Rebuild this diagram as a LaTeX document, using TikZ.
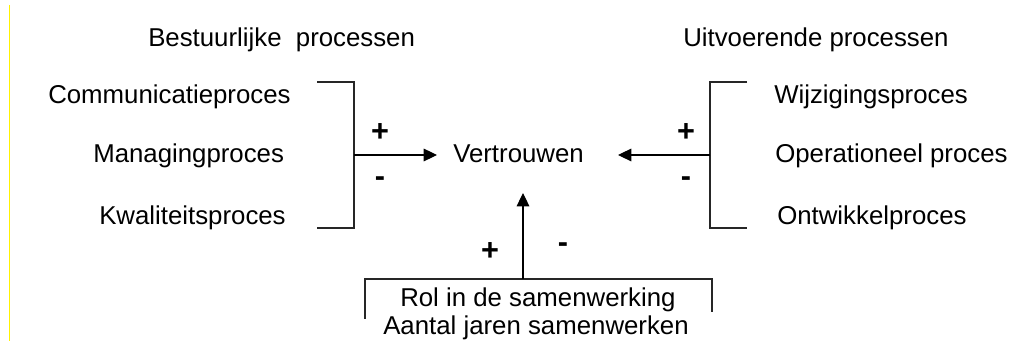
\documentclass[tikz,border=0pt]{standalone}
\usepackage{fontspec}
\setmainfont{Liberation Sans}
\usetikzlibrary{arrows.meta}
\begin{document}
\begin{tikzpicture}[x=0.75pt,y=-0.75pt,
  lbl/.style={anchor=base west,inner sep=0pt,font=\fontsize{19.35pt}{23pt}\selectfont},
  sign/.style={anchor=center,inner sep=0pt,font=\fontsize{23pt}{26pt}\selectfont\bfseries},
  bracket/.style={line width=0.8pt,draw=black!85},
  arr/.style={line width=0.8pt,-{Triangle[length=10pt,width=9.5pt]}}]
\useasboundingbox (0,0) rectangle (1016,341);
\fill[white] (0,0) rectangle (1016,341);
\draw[yellow,line width=1pt] (9.5,5) -- (9.5,341);
% headings
\node[lbl] (hl) at (148,47) {Bestuurlijke\ \ processen};
\node[lbl] (hr) at (683,47) {Uitvoerende processen};
% left items
\node[lbl] (l1) at (48,104) {Communicatieproces};
\node[lbl] (l2) at (93,163) {Managingproces};
\node[lbl] (l3) at (99,225) {Kwaliteitsproces};
% right items
\node[lbl] (r1) at (774,104) {Wijzigingsproces};
\node[lbl] (r2) at (775,163) {Operationeel proces};
\node[lbl] (r3) at (777,225) {Ontwikkelproces};
% centre
\node[lbl] (v) at (453,163) {Vertrouwen};
\coordinate (vw) at (437,155);
\coordinate (ve) at (618,155);
\coordinate (vs) at (523,193);
% bottom items
\node[lbl] (b1) at (400,307) {Rol in de samenwerking};
\node[lbl] (b2) at (383,335) {Aantal jaren samenwerken};
% left bracket
\coordinate (lbt) at (354,82);
\coordinate (lbb) at (354,228);
\coordinate (lbm) at (354,155);
\draw[bracket] (317,82) -- (lbt) -- (lbb) -- (317,228);
\draw[arr] (lbm) -- (vw);
\node[sign] (lp) at (380,133) {+};
\node[sign] (lm) at (380,182) {-};
% right bracket
\coordinate (rbt) at (710,82);
\coordinate (rbb) at (710,228);
\coordinate (rbm) at (710,155);
\draw[bracket] (747,82) -- (rbt) -- (rbb) -- (747,228);
\draw[arr] (rbm) -- (ve);
\node[sign] (rp) at (686,133) {+};
\node[sign] (rm) at (686,182) {-};
% bottom bracket
\coordinate (bbm) at (523,279);
\draw[bracket] (365,319) -- (365,279) -- (712,279) -- (712,312);
\draw[arr] (bbm) -- (vs);
\node[sign] (bp) at (490,252) {+};
\node[sign] (bm) at (563,248) {-};
\end{tikzpicture}
\end{document}
